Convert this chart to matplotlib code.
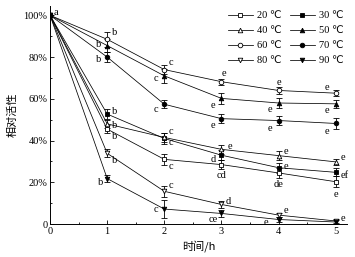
import matplotlib.pyplot as plt
from matplotlib.lines import Line2D
from matplotlib.ticker import FuncFormatter, MultipleLocator

plt.rcParams['font.family'] = ['Liberation Serif', 'DejaVu Sans']

hours = [0, 1, 2, 3, 4, 5]
temps = ["20 ℃", "30 ℃", "40 ℃", "50 ℃", "60 ℃", "70 ℃", "80 ℃", "90 ℃"]

# relative activity (%)
act_20 = [100, 45.5, 31.0, 28.5, 24.5, 20.3]
act_30 = [100, 52.7, 41.0, 33.0, 27.0, 24.8]
act_40 = [100, 48.0, 41.5, 35.8, 32.8, 29.8]
act_50 = [100, 85.5, 71.0, 60.2, 58.0, 57.6]
act_60 = [100, 88.5, 74.0, 68.2, 64.0, 62.7]
act_70 = [100, 80.0, 57.4, 50.5, 49.6, 48.2]
act_80 = [100, 33.9, 15.7, 9.4, 4.3, 1.5]
act_90 = [100, 21.8, 7.2, 5.1, 2.2, 1.0]

err_20 = [0, 2.0, 2.5, 2.0, 2.5, 2.5]
err_30 = [0, 2.5, 2.5, 2.5, 2.5, 2.0]
err_40 = [0, 2.0, 2.0, 2.0, 2.0, 1.5]
err_50 = [0, 3.0, 3.5, 2.5, 2.5, 2.0]
err_60 = [0, 3.5, 2.0, 1.5, 1.5, 1.5]
err_70 = [0, 2.5, 2.0, 2.0, 2.0, 2.5]
err_80 = [0, 2.0, 2.5, 1.5, 1.0, 1.0]
err_90 = [0, 1.5, 4.5, 1.5, 1.0, 1.0]

# significance letters
sig_20 = ["", "b", "c", "cd", "de", "e"]
sig_30 = ["", "b", "c", "d", "e", "ef"]
sig_40 = ["", "b", "c", "e", "e", "e"]
sig_50 = ["", "b", "c", "e", "e", "e"]
sig_60 = ["a", "b", "c", "e", "e", "e"]
sig_70 = ["", "b", "c", "e", "e", "e"]
sig_80 = ["", "b", "c", "d", "e", "e"]
sig_90 = ["", "b", "c", "ce", "e", ""]

series = [
    (act_20, err_20, sig_20, 's', 'white'),
    (act_30, err_30, sig_30, 's', 'black'),
    (act_40, err_40, sig_40, '^', 'white'),
    (act_50, err_50, sig_50, '^', 'black'),
    (act_60, err_60, sig_60, 'o', 'white'),
    (act_70, err_70, sig_70, 'o', 'black'),
    (act_80, err_80, sig_80, 'v', 'white'),
    (act_90, err_90, sig_90, 'v', 'black'),
]

# label offsets in points (dx, dy) per series
offs = [
    [(0, 0), (5, -5), (5, -5), (0, -8), (0, -8), (0, -9)],
    [(0, 0), (5, 2), (5, -3), (-6, -3), (5, 1), (6.5, -2)],
    [(0, 0), (5, -1), (5, 4), (6, 2), (5, 3), (5, 3)],
    [(0, 0), (-6, 1), (-6, -2), (-6, -5), (-6, -5), (-6, -5)],
    [(4, 2), (5, 5), (5, 5), (2, 6), (0, 6), (-6, 4)],
    [(0, 0), (-6, -2), (-6, -4), (-6, -5), (-6, -6), (-6, -6)],
    [(0, 0), (5, -5), (5, 4), (5, 2), (5, 3), (5, 2)],
    [(0, 0), (-5, -3), (-6, 0), (-6, -4), (-9, -2), (0, 0)],
]

fig = plt.figure(figsize=(3.55, 2.57), dpi=100)
ax = fig.add_axes([0.141, 0.128, 0.837, 0.849])

handles = []
for (y, e, s, m, fc), lab, off in zip(series, temps, offs):
    ax.errorbar(hours, y, yerr=e, fmt='-', marker=m, color='black',
                mfc=fc, mec='black', ms=3.3, mew=0.6, lw=0.55, elinewidth=0.6,
                capsize=2, capthick=0.6, zorder=3)
    handles.append(Line2D([], [], color='black', lw=0.55, marker=m, mfc=fc,
                          mec='black', ms=3.3, mew=0.6, label=lab))
    for xi, yi, t, o in zip(hours, y, s, off):
        if t:
            ax.annotate(t, (xi, yi), xytext=o, textcoords='offset points',
                        ha='center', va='center', fontsize=7.5)

ax.set_xlim(0, 5.2)
ax.set_ylim(0, 104.5)
ax.xaxis.set_major_locator(MultipleLocator(1))
ax.xaxis.set_minor_locator(MultipleLocator(0.5))
ax.yaxis.set_major_locator(MultipleLocator(20))
ax.yaxis.set_minor_locator(MultipleLocator(10))
ax.yaxis.set_major_formatter(FuncFormatter(lambda v, p: "0" if v == 0 else f"{v:.0f}%"))
ax.tick_params(which='both', direction='in', labelsize=7.5, width=0.6, pad=2)
ax.tick_params(which='major', length=3)
ax.tick_params(which='minor', length=1.5)
for sp in ['top', 'right']:
    ax.spines[sp].set_visible(False)
for sp in ['left', 'bottom']:
    ax.spines[sp].set_linewidth(0.7)

ax.set_xlabel("时间/h", fontsize=8, family=['Noto Sans CJK SC', 'DejaVu Sans'], labelpad=3)
ax.set_ylabel("相对活性", fontsize=8, family=['Noto Sans CJK SC', 'DejaVu Sans'], labelpad=4)

order = [0, 2, 4, 6, 1, 3, 5, 7]
ax.legend([handles[i] for i in order], [temps[i] for i in order], ncol=2,
          frameon=False, loc='upper right', bbox_to_anchor=(1.02, 1.02),
          fontsize=7.5, handlelength=2.4, columnspacing=0.8,
          handletextpad=0.4, labelspacing=0.55)

fig.savefig("out.png", dpi=100)
